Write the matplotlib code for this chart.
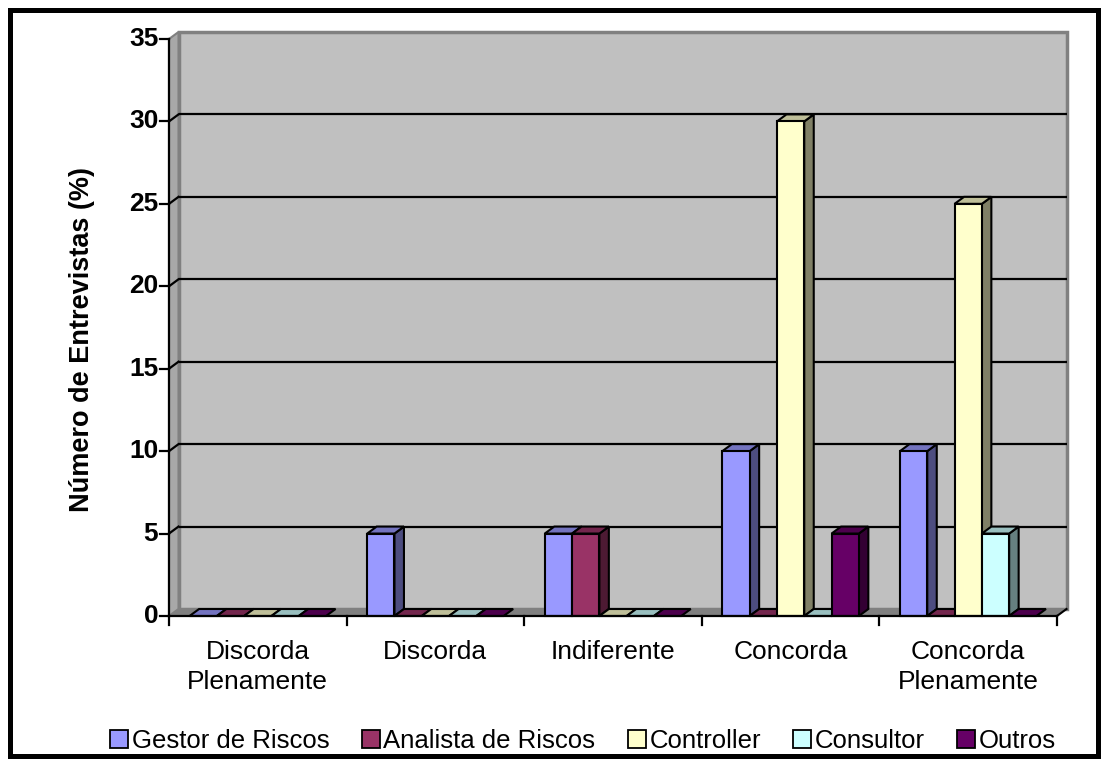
import matplotlib
matplotlib.use("Agg")
import matplotlib.pyplot as plt
from matplotlib.patches import Polygon, Rectangle, Patch

categories = ["Discorda\nPlenamente", "Discorda", "Indiferente", "Concorda", "Concorda\nPlenamente"]
series_names = ["Gestor de Riscos", "Analista de Riscos", "Controller", "Consultor", "Outros"]
gestor = [0, 5, 5, 10, 10]
analista = [0, 0, 5, 0, 0]
controller = [0, 0, 0, 30, 25]
consultor = [0, 0, 0, 0, 5]
outros = [0, 0, 0, 5, 0]
y_ticks = [0, 5, 10, 15, 20, 25, 30, 35]
y_label = "Número de Entrevistas (%)"

front_colors = ["#9999FF", "#993366", "#FFFFCC", "#CCFFFF", "#660066"]
top_colors = ["#7373BF", "#73264D", "#BFBF99", "#99BFBF", "#4D004D"]
side_colors = ["#4D4D80", "#4D1A33", "#808066", "#668080", "#330033"]

plt.rcParams['font.family'] = ['Liberation Sans', 'DejaVu Sans']

W, H = 1107, 765
fig = plt.figure(figsize=(W / 100, H / 100), dpi=100)
ax_l, ax_r, ax_b, ax_t = 169, 1057, 616, 39
ax = fig.add_axes([ax_l / W, 1 - ax_b / H, (ax_r - ax_l) / W, (ax_b - ax_t) / H])
ax.set_xlim(-0.5, 4.5)
ax.set_ylim(0, 35)
ax.axis('off')

# depth offset in data units (derived from the axes scale)
dpx, dpy = 9.5, 7.0
ddx = dpx / ((ax_r - ax_l) / 5.0)
ddy = dpy / ((ax_b - ax_t) / 35.0)

x0, x1 = -0.5, 4.5
lw_edge = 1.5

# back wall
ax.add_patch(Rectangle((x0 + ddx, ddy), 5, 35, facecolor="#C0C0C0", edgecolor="#808080",
                       lw=2.5, zorder=1, clip_on=False))
# left wall
ax.add_patch(Polygon([(x0, 0), (x0, 35), (x0 + ddx, 35 + ddy), (x0 + ddx, ddy)],
                     closed=True, facecolor="#A8A8A8", edgecolor="#808080", lw=1.5,
                     zorder=1.5, clip_on=False))
# gridlines
for yv in y_ticks[1:-1]:
    ax.plot([x0 + ddx, x1 + ddx], [yv + ddy, yv + ddy], color="black", lw=1.6, zorder=2,
            clip_on=False, solid_capstyle='butt')
    ax.plot([x0, x0 + ddx], [yv, yv + ddy], color="black", lw=1.6, zorder=2, clip_on=False)
# floor
ax.add_patch(Polygon([(x0, 0), (x1, 0), (x1 + ddx, ddy), (x0 + ddx, ddy)], closed=True,
                     facecolor="#808080", edgecolor="none", zorder=2.5, clip_on=False))
ax.plot([x1, x1 + ddx], [0, ddy], color="black", lw=1.5, zorder=2.6, clip_on=False)

# bars
data = [gestor, analista, controller, consultor, outros]
n = len(data)
bw = 0.1537
group = bw * n
z = 3
for ci in range(len(categories)):
    start = ci - group / 2
    for si in range(n):
        v = data[si][ci]
        bl = start + si * bw
        br = bl + bw
        if v > 0:
            ax.add_patch(Polygon([(br, 0), (br, v), (br + ddx, v + ddy), (br + ddx, ddy)],
                                 closed=True, facecolor=side_colors[si], edgecolor="black",
                                 lw=lw_edge, zorder=z, clip_on=False, joinstyle='miter'))
            ax.add_patch(Polygon([(bl, v), (br, v), (br + ddx, v + ddy), (bl + ddx, v + ddy)],
                                 closed=True, facecolor=top_colors[si], edgecolor="black",
                                 lw=lw_edge, zorder=z, clip_on=False, joinstyle='miter'))
            ax.add_patch(Rectangle((bl, 0), bw, v, facecolor=front_colors[si],
                                   edgecolor="black", lw=lw_edge, zorder=z + 0.1,
                                   clip_on=False, joinstyle='miter'))
        else:
            ax.add_patch(Polygon([(bl, 0), (br, 0), (br + ddx, ddy), (bl + ddx, ddy)],
                                 closed=True, facecolor=top_colors[si], edgecolor="black",
                                 lw=lw_edge, zorder=z, clip_on=False, joinstyle='miter'))
        z += 0.2

# front axis lines
ax.plot([x0, x0], [0, 35], color="black", lw=1.6, zorder=50, clip_on=False)
ax.plot([x0, x1], [0, 0], color="black", lw=1.6, zorder=50, clip_on=False)

# ticks
tick_len_px = 9
tl_x = tick_len_px / ((ax_r - ax_l) / 5.0)
tl_y = tick_len_px / ((ax_b - ax_t) / 35.0)
for yv in y_ticks:
    ax.plot([x0 - tl_x, x0], [yv, yv], color="black", lw=1.6, zorder=50, clip_on=False)
    ax.text(x0 - tl_x - 0.01, yv, str(yv), ha='right', va='center', fontsize=19,
            fontweight='bold')
for i in range(len(categories) + 1):
    xb = x0 + i
    ax.plot([xb, xb], [0, -tl_y], color="black", lw=1.6, zorder=50, clip_on=False)
for ci, cat in enumerate(categories):
    ax.text(ci, -1.45, cat, ha='center', va='top', fontsize=19, linespacing=1.3)

fig.text(82 / W, 1 - 340 / H, y_label, rotation=90, ha='center', va='center',
         fontsize=19.5, fontweight='bold')

handles = [Patch(facecolor=front_colors[i], edgecolor="black", lw=1.3) for i in range(n)]
fig.legend(handles, series_names, loc='center', bbox_to_anchor=(583 / W, 1 - 741 / H),
           ncol=5, frameon=False, fontsize=18.5, handlelength=0.7, handleheight=0.7,
           handletextpad=0.15, columnspacing=1.25, borderaxespad=0)

# outer border
fig.patches.append(Rectangle((9.5 / W, 9.5 / H), (W - 19) / W, (H - 19) / H,
                             transform=fig.transFigure, fill=False, edgecolor="black",
                             lw=3.6, zorder=100))

fig.savefig("out.png", dpi=100)
